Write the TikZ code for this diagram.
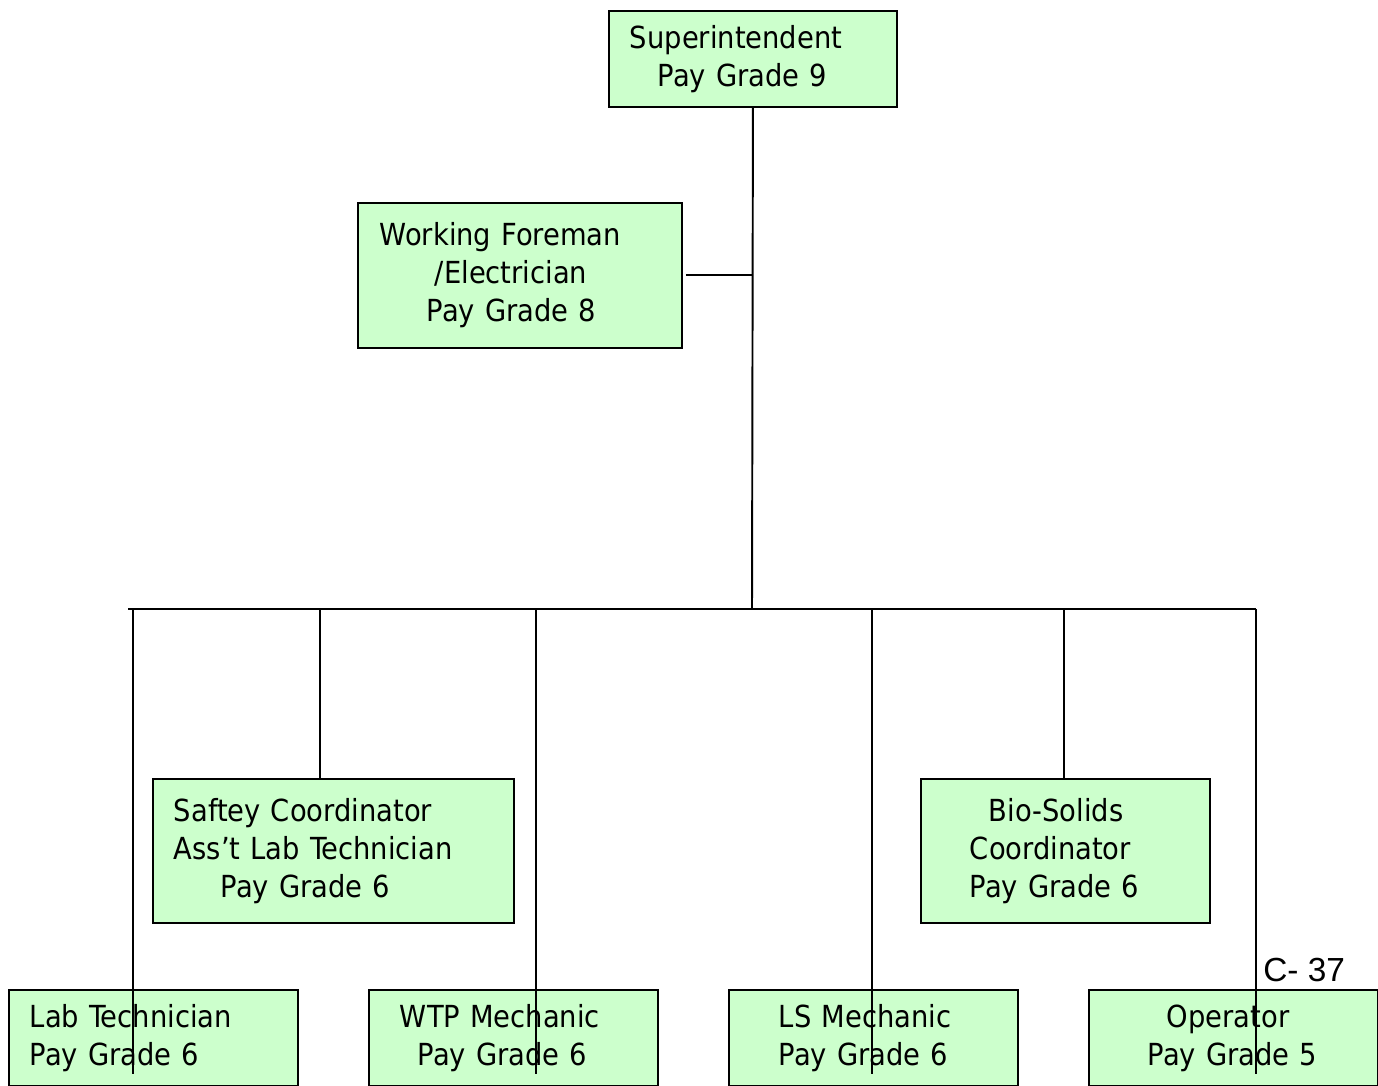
\documentclass[tikz,border=0pt]{standalone}
\usepackage{fontspec}
\setmainfont{DejaVu Sans Condensed}
\newfontfamily\pagefont{Liberation Sans}
\usepackage{tikz}

\definecolor{postgreen}{HTML}{CCFFCC}

\tikzset{
  post/.style={draw=black, line width=1.1pt, fill=postgreen, anchor=north west,
    inner xsep=0pt, inner ysep=0pt, align=left, text width=5.78cm,
    minimum height=1.92cm, font=\fontsize{17.3}{21.6}\selectfont},
  link/.style={line width=1.1pt}
}

\begin{document}
\begin{tikzpicture}[x=0.02cm, y=-0.02cm]
\useasboundingbox (0,0) rectangle (1378,1085);

% The top post
\node[post, text width=5.76cm] (sup) at (608,10)
  {\hspace*{0.42cm}Superintendent\\\hspace*{0.98cm}Pay Grade 9};

% The foreman beside the trunk
\node[post, text width=6.48cm, minimum height=2.9cm] (fore) at (357,202)
  {\hspace*{0.44cm}Working Foreman\\\hspace*{1.54cm}/Electrician\\\hspace*{1.38cm}Pay Grade 8};

% The middle row
\node[post, text width=7.22cm, minimum height=2.88cm] (saf) at (152,778)
  {\hspace*{0.42cm}Saftey Coordinator\\\hspace*{0.42cm}Ass'{}t Lab Technician\\\hspace*{1.36cm}Pay Grade 6};
\node[post, minimum height=2.88cm] (bio) at (920,778)
  {\hspace*{1.36cm}Bio-Solids\\\hspace*{0.98cm}Coordinator\\\hspace*{0.98cm}Pay Grade 6};

% The bottom row
\node[post] (lab) at (8,989)
  {\hspace*{0.42cm}Lab Technician\\\hspace*{0.42cm}Pay Grade 6};
\node[post] (wtp) at (368,989)
  {\hspace*{0.62cm}WTP Mechanic\\\hspace*{0.98cm}Pay Grade 6};
\node[post] (ls) at (728,989)
  {\hspace*{1.0cm}LS Mechanic\\\hspace*{1.0cm}Pay Grade 6};
\node[post] (op) at (1088,989)
  {\hspace*{1.56cm}Operator\\\hspace*{1.18cm}Pay Grade 5};

% Page number
\node[anchor=west, inner sep=0pt, font=\pagefont\fontsize{19}{21}\selectfont] (page) at (1263,970) {C- 37};

% The trunk and the bus
\coordinate (hub) at (752,609);
\coordinate (busL) at (128,609);
\coordinate (busR) at (1256,609);
\draw[link] (sup.south) -- (hub);
\draw[link, shorten <=0.06cm] (fore.east) -- (fore.east -| hub);
\draw[link] (busL) -- (busR);

% Drops to the middle row
\foreach \x/\n in {320/saf, 1064/bio}
  \draw[link] (\x,609) -- (\x,609 |- \n.north);

% Drops to the bottom row, drawn over the boxes
\foreach \x/\n in {133/lab, 536/wtp, 872/ls, 1256/op}
  \draw[link] (\x,609) -- ([yshift=0.26cm]\x,609 |- \n.south);

\end{tikzpicture}
\end{document}
